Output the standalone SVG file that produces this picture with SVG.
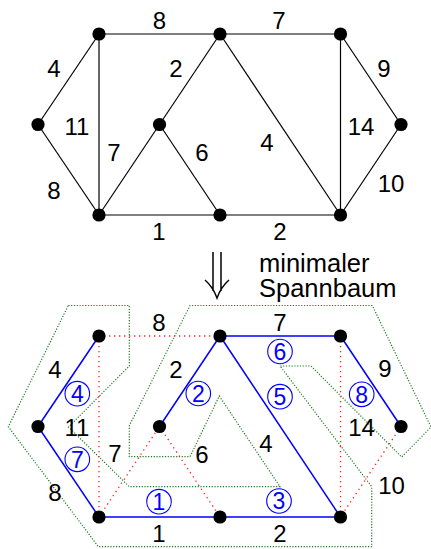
<svg xmlns="http://www.w3.org/2000/svg" width="431" height="549" viewBox="0 0 431 549">
<style>
.e{stroke:#000;stroke-width:1.2;fill:none}
.t{stroke:#0000ff;stroke-width:1.5;fill:none}
.r{stroke:#ff2020;stroke-width:1.3;fill:none;stroke-dasharray:1.3 3.7}
.g{stroke:#1e7a1e;stroke-width:1.2;fill:none;stroke-dasharray:1.2 1.6}
.n{fill:#000}
text{font-family:"Liberation Sans",Arial,sans-serif;font-size:24px;text-anchor:middle;fill:#000}
.c circle{fill:none;stroke:#0000ff;stroke-width:1.1}
.c text{fill:#0000ff;font-size:23px}
.lbl{text-anchor:start;font-size:25.5px}
</style>
<g id="connectors">
<g id="top-edges">
<line class="e" x1="99" y1="34" x2="220" y2="34"/>
<line class="e" x1="220" y1="34" x2="340.5" y2="34"/>
<line class="e" x1="38" y1="124.5" x2="99" y2="34"/>
<line class="e" x1="38" y1="124.5" x2="99" y2="215"/>
<line class="e" x1="99" y1="34" x2="99" y2="215"/>
<line class="e" x1="220" y1="34" x2="159.5" y2="124.5"/>
<line class="e" x1="99" y1="215" x2="159.5" y2="124.5"/>
<line class="e" x1="159.5" y1="124.5" x2="220" y2="215"/>
<line class="e" x1="220" y1="34" x2="340.5" y2="215"/>
<line class="e" x1="340.5" y1="34" x2="340.5" y2="215"/>
<line class="e" x1="340.5" y1="34" x2="401" y2="124.5"/>
<line class="e" x1="401" y1="124.5" x2="340.5" y2="215"/>
<line class="e" x1="99" y1="215" x2="220" y2="215"/>
<line class="e" x1="220" y1="215" x2="340.5" y2="215"/>
</g>
<g id="arrow">
<path d="M213,252 V291 M221,252 V291 M205,280 Q213,287 217,298 Q221,287 229,280" stroke="#000" stroke-width="1.5" fill="none"/>
</g>
<g id="contour">
<path class="g" d="M68.3,305.5 L129.3,305.5 L129.3,366 L68.5,427 L129.3,486.7 L280,486.7 L219.3,396 L190,456.7 L129.3,456.7 L129.3,425.7 L190,305.5 L372.3,305.5 L431,427 L401.7,457 L311,366 L280,366 L371.7,486.7 L371.7,546.7 L98.3,546.7 L8.3,426.7 Z"/>
</g>
<g id="bottom-nontree">
<line class="r" x1="99" y1="336" x2="220" y2="336"/>
<line class="r" x1="99" y1="336" x2="99" y2="517"/>
<line class="r" x1="99" y1="517" x2="159.5" y2="426.5"/>
<line class="r" x1="159.5" y1="426.5" x2="220" y2="517"/>
<line class="r" x1="340.5" y1="336" x2="340.5" y2="517"/>
<line class="r" x1="401" y1="426.5" x2="340.5" y2="517"/>
</g>
<g id="bottom-tree">
<line class="t" x1="99" y1="336" x2="38" y2="426.5"/>
<line class="t" x1="38" y1="426.5" x2="99" y2="517"/>
<line class="t" x1="99" y1="517" x2="220" y2="517"/>
<line class="t" x1="220" y1="517" x2="340.5" y2="517"/>
<line class="t" x1="159.5" y1="426.5" x2="220" y2="336"/>
<line class="t" x1="220" y1="336" x2="340.5" y2="517"/>
<line class="t" x1="220" y1="336" x2="340.5" y2="336"/>
<line class="t" x1="340.5" y1="336" x2="401" y2="426.5"/>
</g>
</g>
<g id="top-nodes">
<circle id="tA" class="n" cx="38" cy="124.5" r="6.6"/>
<circle id="tB" class="n" cx="99" cy="34" r="6.6"/>
<circle id="tC" class="n" cx="220" cy="34" r="6.6"/>
<circle id="tD" class="n" cx="340.5" cy="34" r="6.6"/>
<circle id="tE" class="n" cx="159.5" cy="124.5" r="6.6"/>
<circle id="tF" class="n" cx="401" cy="124.5" r="6.6"/>
<circle id="tG" class="n" cx="99" cy="215" r="6.6"/>
<circle id="tH" class="n" cx="220" cy="215" r="6.6"/>
<circle id="tI" class="n" cx="340.5" cy="215" r="6.6"/>
</g>
<g id="bottom-nodes">
<circle id="bA" class="n" cx="38" cy="426.5" r="6.6"/>
<circle id="bB" class="n" cx="99" cy="336" r="6.6"/>
<circle id="bC" class="n" cx="220" cy="336" r="6.6"/>
<circle id="bD" class="n" cx="340.5" cy="336" r="6.6"/>
<circle id="bE" class="n" cx="159.5" cy="426.5" r="6.6"/>
<circle id="bF" class="n" cx="401" cy="426.5" r="6.6"/>
<circle id="bG" class="n" cx="99" cy="517" r="6.6"/>
<circle id="bH" class="n" cx="220" cy="517" r="6.6"/>
<circle id="bI" class="n" cx="340.5" cy="517" r="6.6"/>
</g>
<g id="top-labels">
<text x="159.5" y="28.5">8</text>
<text x="279" y="28.5">7</text>
<text x="54" y="76.5">4</text>
<text x="176" y="76.5">2</text>
<text x="384" y="76.5">9</text>
<text x="77" y="134.5">11</text>
<text x="361" y="134.5">14</text>
<text x="114" y="160.5">7</text>
<text x="202" y="160.5">6</text>
<text x="267" y="150.5">4</text>
<text x="54" y="198.5">8</text>
<text x="391" y="191.5">10</text>
<text x="159" y="239.5">1</text>
<text x="280" y="239.5">2</text>
</g>
<g id="caption">
<text class="lbl" x="259" y="271.5">minimaler</text>
<text class="lbl" x="259" y="297">Spannbaum</text>
</g>
<g id="bottom-labels">
<text x="159" y="330.5">8</text>
<text x="280" y="330.5">7</text>
<text x="55" y="378">4</text>
<text x="176" y="378">2</text>
<text x="385" y="377">9</text>
<text x="77" y="435.5">11</text>
<text x="361.5" y="435.5">14</text>
<text x="115" y="462">7</text>
<text x="202" y="462.5">6</text>
<text x="266" y="452">4</text>
<text x="55" y="500.5">8</text>
<text x="391.5" y="494">10</text>
<text x="159" y="542">1</text>
<text x="280" y="542">2</text>
</g>
<g id="order" class="c">
<g id="o1"><circle cx="159" cy="501.7" r="12.3"/><text x="159" y="509.9">1</text></g>
<g id="o2"><circle cx="198.3" cy="393.5" r="12.3"/><text x="198.3" y="401.7">2</text></g>
<g id="o3"><circle cx="279" cy="501" r="12.3"/><text x="279" y="509.2">3</text></g>
<g id="o4"><circle cx="77.3" cy="393.7" r="12.3"/><text x="77.3" y="401.9">4</text></g>
<g id="o5"><circle cx="280" cy="396.7" r="12.3"/><text x="280" y="404.9">5</text></g>
<g id="o6"><circle cx="280" cy="351.5" r="12.3"/><text x="280" y="359.7">6</text></g>
<g id="o7"><circle cx="77.3" cy="459.3" r="12.3"/><text x="77.3" y="467.5">7</text></g>
<g id="o8"><circle cx="361.7" cy="394.3" r="12.3"/><text x="361.7" y="402.5">8</text></g>
</g>
</svg>
